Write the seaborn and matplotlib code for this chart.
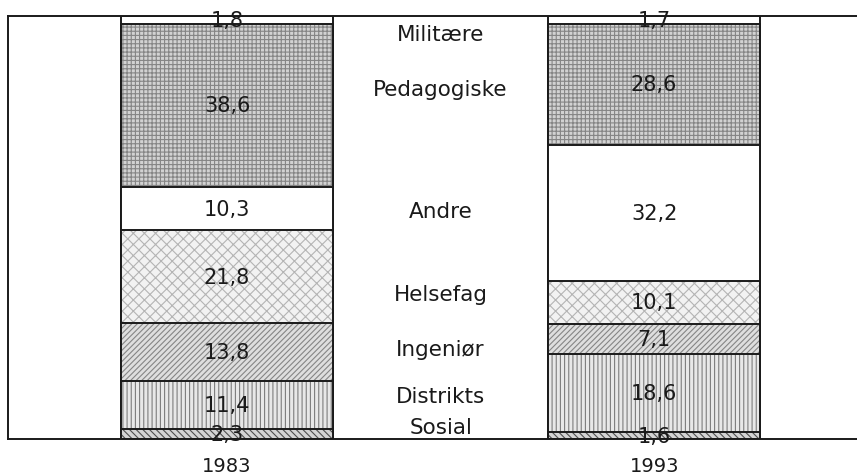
import numpy as np
import pandas as pd
import matplotlib
matplotlib.use('Agg')
import matplotlib.pyplot as plt
import seaborn as sns

# ----- DATA ---------------|
years = ['1983', '1993']
categories = ['Sosial', 'Distrikts', 'Ingeniør', 'Helsefag', 'Andre', 'Pedagogiske', 'Militære']
share_1983 = [2.3, 11.4, 13.8, 21.8, 10.3, 38.6, 1.8]
share_1993 = [1.6, 18.6, 7.1, 10.1, 32.2, 28.6, 1.7]

# where the category names sit in the gap between the bars (data units)
name_y = [2.8, 10.2, 21.3, 34.3, 53.9, 82.7, 95.7]

# fill / hatch per category (bottom -> top)
styles = {
    'Sosial':      dict(face='#d4d4d4', hatch='\\\\\\\\\\', hcol='#505050'),
    'Distrikts':   dict(face='#e8e8e8', hatch='||||',       hcol='#7d7d7d'),
    'Ingeniør':    dict(face='#dedede', hatch='//////',     hcol='#858585'),
    'Helsefag':    dict(face='#f2f2f2', hatch='xxx',        hcol='#b4b4b4'),
    'Andre':       dict(face='white',   hatch=None,         hcol='white'),
    'Pedagogiske': dict(face='#d2d2d2', hatch='++++',       hcol='#858585'),
    'Militære':    dict(face='white',   hatch=None,         hcol='white'),
}

df = pd.DataFrame({'year': np.repeat(years, len(categories)),
                   'category': categories * len(years),
                   'share': share_1983 + share_1993})
df['top'] = df.groupby('year')['share'].cumsum()
df['bottom'] = df['top'] - df['share']

sns.set_style('white')
plt.rcParams['font.family'] = ['DejaVu Sans']
plt.rcParams['hatch.linewidth'] = 0.8

fig = plt.figure(figsize=(8.57, 4.77), dpi=100)
ax = fig.add_axes([8 / 857, 37 / 477, 1 - 8 / 857, 423 / 477])

BAR_W = 0.496
# stacked look: draw cumulative totals from the top category down,
# each lower layer covers the part beneath the one drawn before it
for cat in categories[::-1]:
    sub = df[df['category'] == cat]
    st = styles[cat]
    # hatched fill (hatch takes the edge colour, so no outline here)
    sns.barplot(data=sub, x='year', y='top', order=years, width=BAR_W,
                color=st['face'], saturation=1, hatch=st['hatch'],
                edgecolor=st['hcol'], linewidth=0, errorbar=None, ax=ax)
    # black outline on top
    sns.barplot(data=sub, x='year', y='top', order=years, width=BAR_W,
                fill=False, edgecolor='#1a1a1a', linewidth=1.4,
                errorbar=None, ax=ax)

for i, yr in enumerate(years):
    for row in df[df['year'] == yr].itertuples():
        ax.text(i, row.bottom + row.share / 2, f'{row.share:.1f}'.replace('.', ','),
                ha='center', va='center', fontsize=15, color='#1a1a1a')

for cat, y in zip(categories, name_y):
    ax.text(0.5, y, cat, ha='center', va='center', fontsize=15.5, color='#1a1a1a')

ax.set_xlim(-0.513, 1.475)
ax.set_ylim(0, 100)
ax.set_yticks([])
ax.set_xlabel('')
ax.set_ylabel('')
ax.tick_params(axis='x', length=0, pad=12, labelsize=14, labelcolor='#1a1a1a')
for side in ['left', 'top', 'bottom']:
    ax.spines[side].set_visible(True)
    ax.spines[side].set_color('#1a1a1a')
    ax.spines[side].set_linewidth(1.4)
ax.spines['right'].set_visible(False)

fig.savefig('out.png', dpi=100)
